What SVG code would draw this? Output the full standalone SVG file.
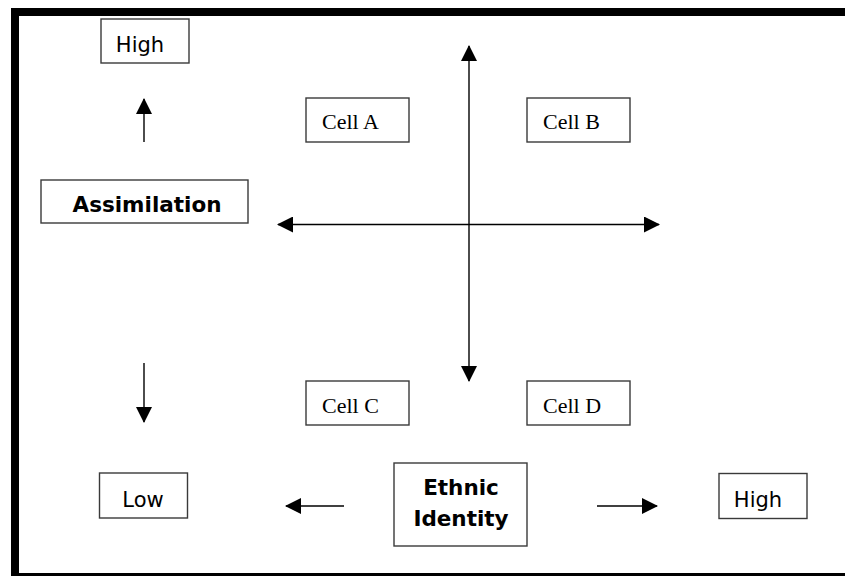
<svg xmlns="http://www.w3.org/2000/svg" width="845" height="576" viewBox="0 0 845 576">
<style>
.box{fill:#fff;stroke:#3a3a3a;stroke-width:1.4}
.sans{font-family:"DejaVu Sans","Liberation Sans",sans-serif;fill:#000}
.serif{font-family:"Liberation Serif","DejaVu Serif",serif;fill:#000;font-size:22px}
.ln{stroke:#000;stroke-width:1.4;fill:none}
</style>
<defs>
<marker id="ah" markerUnits="userSpaceOnUse" markerWidth="16" markerHeight="16" viewBox="0 0 16 16" refX="15" refY="8" orient="auto-start-reverse">
<path d="M0,0 L16,8 L0,16 Z" fill="#000"/>
</marker>
</defs>
<rect x="0" y="0" width="845" height="576" fill="#fff"/>
<rect x="15" y="12" width="860" height="565" fill="none" stroke="#000" stroke-width="8"/>
<g id="connectors">
<line class="ln" x1="469" y1="46" x2="469" y2="381" marker-start="url(#ah)" marker-end="url(#ah)"/>
<line class="ln" x1="278" y1="224.5" x2="659" y2="224.5" marker-start="url(#ah)" marker-end="url(#ah)"/>
<line class="ln" x1="144" y1="142" x2="144" y2="99" marker-end="url(#ah)"/>
<line class="ln" x1="144" y1="363" x2="144" y2="422" marker-end="url(#ah)"/>
<line class="ln" x1="344" y1="506" x2="286" y2="506" marker-end="url(#ah)"/>
<line class="ln" x1="597" y1="506" x2="657" y2="506" marker-end="url(#ah)"/>
</g>
<g id="high-top">
<rect class="box" x="101" y="19" width="88" height="44"/>
<text class="sans" x="140" y="52" font-size="21" text-anchor="middle">High</text>
</g>
<g id="assimilation">
<rect class="box" x="41" y="180" width="207" height="43"/>
<text class="sans" x="147" y="212" font-size="21.5" font-weight="bold" text-anchor="middle">Assimilation</text>
</g>
<g id="cell-a">
<rect class="box" x="306" y="98" width="103" height="44"/>
<text class="serif" x="322" y="129">Cell A</text>
</g>
<g id="cell-b">
<rect class="box" x="527" y="98" width="103" height="44"/>
<text class="serif" x="543" y="129">Cell B</text>
</g>
<g id="cell-c">
<rect class="box" x="306" y="381" width="103" height="44"/>
<text class="serif" x="322" y="413">Cell C</text>
</g>
<g id="cell-d">
<rect class="box" x="527" y="381" width="103" height="44"/>
<text class="serif" x="543" y="413">Cell D</text>
</g>
<g id="low">
<rect class="box" x="99.5" y="473" width="88" height="45"/>
<text class="sans" x="143" y="507" font-size="21" text-anchor="middle">Low</text>
</g>
<g id="ethnic-identity">
<rect class="box" x="394" y="463" width="133" height="83"/>
<text class="sans" x="461" y="495" font-size="21.5" font-weight="bold" text-anchor="middle">Ethnic</text>
<text class="sans" x="461" y="526" font-size="21.5" font-weight="bold" text-anchor="middle">Identity</text>
</g>
<g id="high-right">
<rect class="box" x="719" y="473.5" width="88" height="45"/>
<text class="sans" x="758" y="507" font-size="21" text-anchor="middle">High</text>
</g>
</svg>
